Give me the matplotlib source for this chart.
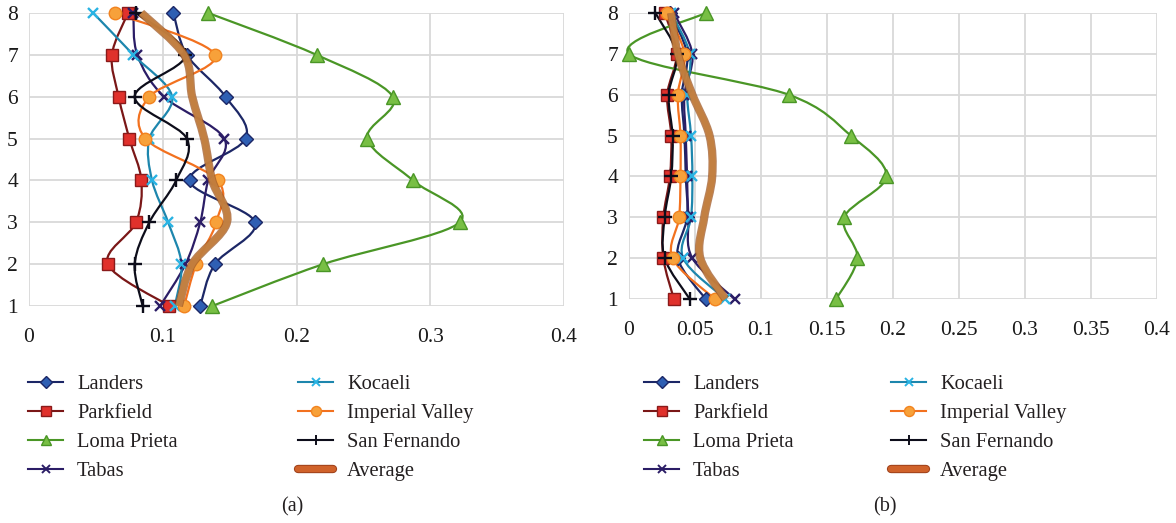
import numpy as np
import matplotlib
matplotlib.use('Agg')
import matplotlib.pyplot as plt
from matplotlib.path import Path
from matplotlib.patches import PathPatch
from matplotlib.lines import Line2D
import matplotlib.patheffects as pe

# storey levels (y axis)
levels = [1, 2, 3, 4, 5, 6, 7, 8]

# (a) values per record, storey 1 -> 8
landers_a = [0.128, 0.139, 0.169, 0.120, 0.162, 0.147, 0.118, 0.108]
parkfield_a = [0.105, 0.059, 0.080, 0.084, 0.075, 0.067, 0.062, 0.074]
loma_a = [0.137, 0.220, 0.322, 0.287, 0.253, 0.272, 0.215, 0.134]
tabas_a = [0.098, 0.117, 0.128, 0.134, 0.146, 0.101, 0.081, 0.078]
kocaeli_a = [0.109, 0.114, 0.104, 0.092, 0.090, 0.107, 0.078, 0.048]
imperial_a = [0.116, 0.125, 0.140, 0.141, 0.087, 0.090, 0.139, 0.064]
sanfer_a = [0.085, 0.079, 0.090, 0.110, 0.118, 0.079, 0.117, 0.080]
average_a = [0.112, 0.122, 0.148, 0.137, 0.131, 0.122, 0.116, 0.084]

# (b) values per record, storey 1 -> 8
landers_b = [0.058, 0.037, 0.044, 0.043, 0.042, 0.040, 0.044, 0.031]
parkfield_b = [0.034, 0.026, 0.026, 0.031, 0.032, 0.029, 0.036, 0.027]
loma_b = [0.157, 0.173, 0.163, 0.195, 0.168, 0.121, 0.000, 0.058]
tabas_b = [0.080, 0.048, 0.045, 0.044, 0.043, 0.042, 0.048, 0.034]
kocaeli_b = [0.073, 0.041, 0.047, 0.048, 0.047, 0.044, 0.046, 0.032]
imperial_b = [0.065, 0.033, 0.038, 0.039, 0.039, 0.037, 0.042, 0.029]
sanfer_b = [0.046, 0.027, 0.027, 0.032, 0.033, 0.030, 0.036, 0.020]
average_b = [0.073, 0.054, 0.057, 0.063, 0.061, 0.048, 0.037, 0.032]

names = ['Landers', 'Parkfield', 'Loma Prieta', 'Tabas',
         'Kocaeli', 'Imperial Valley', 'San Fernando', 'Average']

xticks_a = [0, 0.1, 0.2, 0.3, 0.4]
xlabels_a = ['0', '0.1', '0.2', '0.3', '0.4']
xticks_b = [0, 0.05, 0.1, 0.15, 0.2, 0.25, 0.3, 0.35, 0.4]
xlabels_b = ['0', '0.05', '0.1', '0.15', '0.2', '0.25', '0.3', '0.35', '0.4']

# estilo de cada serie: color linea, marcador, relleno, borde, tamaño
estilos = {
    'Landers': dict(lc='#1c2766', m='D', mfc='#2f5fb3', mec='#1c2766', ms=7.5),
    'Parkfield': dict(lc='#7a1717', m='s', mfc='#e0312c', mec='#8a1a1a', ms=9),
    'Loma Prieta': dict(lc='#4a9626', m='^', mfc='#78bf44', mec='#4a9626', ms=9.5),
    'Tabas': dict(lc='#2b1d66', m='x', mfc='#2b1d66', mec='#2b1d66', ms=7.5),
    'Kocaeli': dict(lc='#1d86ad', m='x', mfc='#29b3e3', mec='#29b3e3', ms=7.5),
    'Imperial Valley': dict(lc='#f2711f', m='o', mfc='#f7a13a', mec='#f2831f', ms=9),
    'San Fernando': dict(lc='#0d0d1a', m='+', mfc='#0d0d1a', mec='#0d0d1a', ms=9.5),
}
avg_color = '#c4803f'
avg_edge = '#a05a28'

W, H = 1176, 523
serif = ['Liberation Serif', 'DejaVu Serif']
plt.rcParams['font.family'] = serif


def curva_suave(xs, ys):
    '''Bezier por tramos (tipo Catmull-Rom) que pasa por todos los puntos'''
    pts = np.column_stack([xs, ys]).astype(float)
    n = len(pts)
    verts = [pts[0]]
    codes = [Path.MOVETO]
    for i in range(n - 1):
        p0 = pts[i - 1] if i > 0 else pts[i]
        p1 = pts[i]
        p2 = pts[i + 1]
        p3 = pts[i + 2] if i + 2 < n else pts[i + 1]
        verts += [p1 + (p2 - p0) / 6, p2 - (p3 - p1) / 6, p2]
        codes += [Path.CURVE4] * 3
    return Path(verts, codes)


def panel(ax, series, avg, xticks, xlabels):
    for nombre, xs in zip(names[:-1], series):
        e = estilos[nombre]
        ax.add_patch(PathPatch(curva_suave(xs, levels), fill=False,
                               edgecolor=e['lc'], lw=1.6, zorder=3, clip_on=False))
        ax.plot(xs, levels, ls='none', marker=e['m'], ms=e['ms'], mfc=e['mfc'],
                mec=e['mec'], mew=1.7 if e['m'] in 'x+' else 1.0,
                zorder=4, clip_on=False)
    # promedio: trazo grueso con borde
    ax.add_patch(PathPatch(curva_suave(avg, levels), fill=False, edgecolor=avg_color,
                           lw=4.5, alpha=0.9, zorder=5, clip_on=False,
                           path_effects=[pe.Stroke(linewidth=6, foreground=avg_edge, alpha=0.75),
                                         pe.Normal()]))
    ax.set_xlim(xticks[0], xticks[-1])
    ax.set_ylim(1, 8)
    ax.set_xticks(xticks)
    ax.set_xticklabels(xlabels)
    ax.set_yticks(levels)
    ax.grid(True, color='#d9d9d9', lw=1.3)
    ax.set_axisbelow(True)
    for s in ax.spines.values():
        s.set_visible(False)
    ax.tick_params(length=0, labelsize=15.5, colors='#1a1a1a')
    ax.tick_params(axis='x', pad=16)
    ax.tick_params(axis='y', pad=8)


def leyenda(fig, x0, x1, y0, dy):
    '''Leyenda dibujada a mano en dos columnas (coordenadas en pixeles)'''
    for i, nombre in enumerate(names):
        col, fila = divmod(i, 4)
        hx = (x0 if col == 0 else x1)
        py = y0 + fila * dy
        xx = [hx / W, (hx + 35) / W]
        yy = [1 - py / H] * 2
        if nombre == 'Average':
            ln = Line2D(xx, yy, color='#d0622a', lw=4.5, solid_capstyle='round',
                        path_effects=[pe.Stroke(linewidth=6, foreground='#a0421c'),
                                      pe.Normal()])
            fig.add_artist(ln)
        else:
            e = estilos[nombre]
            fig.add_artist(Line2D(xx, yy, color=e['lc'], lw=1.5))
            fig.add_artist(Line2D([(hx + 17.5) / W], [yy[0]], ls='none', marker=e['m'],
                                  ms=e['ms'] * 0.8, mfc=e['mfc'], mec=e['mec'],
                                  mew=1.4 if e['m'] in 'x+' else 1.0))
        fig.text((hx + 49) / W, 1 - py / H, nombre, fontsize=14.8, color='#231f20',
                 va='center_baseline', ha='left')


fig = plt.figure(figsize=(W / 100, H / 100), dpi=100)

ax_a = fig.add_axes([29 / W, 1 - 306 / H, 535 / W, 293 / H])
panel(ax_a, [landers_a, parkfield_a, loma_a, tabas_a, kocaeli_a, imperial_a, sanfer_a],
      average_a, xticks_a, xlabels_a)

ax_b = fig.add_axes([629 / W, 1 - 299 / H, 528 / W, 286 / H])
panel(ax_b, [landers_b, parkfield_b, loma_b, tabas_b, kocaeli_b, imperial_b, sanfer_b],
      average_b, xticks_b, xlabels_b)

leyenda(fig, 28, 298, 382, 29)
leyenda(fig, 644, 891, 382, 29)

fig.text(292 / W, 1 - 507 / H, '(a)', fontsize=14.5, ha='center', va='center', color='#231f20')
fig.text(885 / W, 1 - 507 / H, '(b)', fontsize=14.5, ha='center', va='center', color='#231f20')

fig.savefig('out.png', dpi=100)
